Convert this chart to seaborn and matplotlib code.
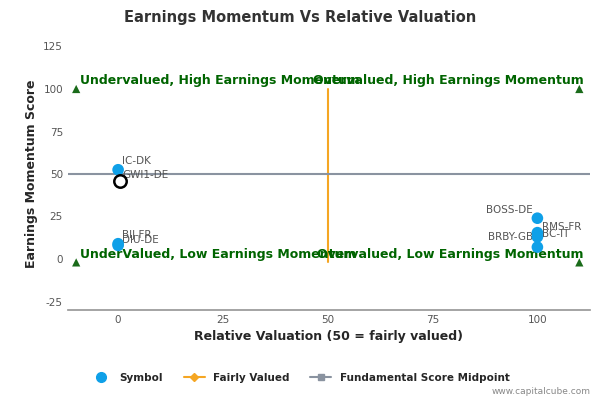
import matplotlib
matplotlib.use("Agg")
import matplotlib.pyplot as plt
import seaborn as sns
import pandas as pd
from matplotlib.lines import Line2D

symbols = ["IC-DK", "BIJ-FR", "DIU-DE", "BOSS-DE", "RMS-FR", "BC-IT", "BRBY-GB"]
val_x = [0, 0, 0, 100, 100, 100, 100]
mom_y = [52.5, 9, 8, 24, 15.5, 13, 7]
focus_name = "GWI1-DE"
focus_x, focus_y = 0.5, 46
corners_x = [-10, 110, -10, 110]
corners_y = [100, 100, -2, -2]
quad_labels = ["Undervalued, High Earnings Momentum", "Overvalued, High Earnings Momentum",
               "UnderValued, Low Earnings Momentum", "Overvalued, Low Earnings Momentum"]

sns.set_theme(style="white")
plt.rcParams["axes.unicode_minus"] = False
fig, ax = plt.subplots(figsize=(6, 4), dpi=100)
fig.subplots_adjust(left=0.113, right=0.983, top=0.905, bottom=0.225)

df = pd.DataFrame({"x": val_x, "y": mom_y, "s": symbols})
sns.scatterplot(data=df, x="x", y="y", ax=ax, color="#0fa0e8", s=70, edgecolor="none", zorder=4, legend=False)
ax.scatter([focus_x], [focus_y], s=80, facecolor="white", edgecolor="black", linewidth=1.8, zorder=5)
sns.scatterplot(x=corners_x, y=corners_y, ax=ax, marker="^", color="#1a6b1a", s=35, edgecolor="none", legend=False)

ax.plot([50, 50], [-2, 100], color="#f5a623", lw=1.5, zorder=2)
ax.axhline(50, color="#8a93a0", lw=1.5, zorder=2)

offs = {"IC-DK": (1, 2, "left"), "BIJ-FR": (1, 2, "left"), "DIU-DE": (1, 0, "left"),
        "BOSS-DE": (-1, 2, "right"), "RMS-FR": (1, 0.5, "left"), "BC-IT": (1, -1, "left"),
        "BRBY-GB": (-1, 3, "right")}
for s, x, y in zip(symbols, val_x, mom_y):
    dx, dy, ha = offs[s]
    ax.text(x + dx, y + dy, s, fontsize=7.5, color="#555555", ha=ha, va="bottom")
ax.text(focus_x + 0.5, focus_y + 0.5, focus_name, fontsize=7.5, color="#555555", ha="left", va="bottom")

gk = dict(fontsize=9, color="#006400", fontweight="bold", va="bottom")
ax.text(-9, 101, quad_labels[0], ha="left", **gk)
ax.text(111, 101, quad_labels[1], ha="right", **gk)
ax.text(-9, -1, quad_labels[2], ha="left", **gk)
ax.text(111, -1, quad_labels[3], ha="right", **gk)

ax.set_xlim(-12, 112.5)
ax.set_ylim(-30, 130)
ax.set_xticks([0, 25, 50, 75, 100])
ax.set_yticks([-25, 0, 25, 50, 75, 100, 125])
ax.tick_params(labelsize=7.5, colors="#555555", length=0)
ax.set_xlabel("Relative Valuation (50 = fairly valued)", fontsize=9, fontweight="bold")
ax.set_ylabel("Earnings Momentum Score", fontsize=9, fontweight="bold")
for sp in ["top", "right", "left"]:
    ax.spines[sp].set_visible(False)
ax.spines["bottom"].set_color("#999999")
fig.suptitle("Earnings Momentum Vs Relative Valuation", fontsize=10.5, fontweight="bold", color="#333333", y=0.975)

handles = [Line2D([], [], marker="o", ls="none", color="#0fa0e8", markersize=7),
           Line2D([], [], marker="D", color="#f5a623", markersize=4, lw=1.5),
           Line2D([], [], marker="s", color="#8a93a0", markersize=5, lw=1.5)]
fig.legend(handles, ["Symbol", "Fairly Valued", "Fundamental Score Midpoint"], loc="lower center",
           bbox_to_anchor=(0.5, 0.02), ncol=3, frameon=False, prop={"size": 7.5, "weight": "bold"})
fig.text(0.985, 0.01, "www.capitalcube.com", fontsize=6.5, color="#888888", ha="right", va="bottom")
fig.savefig("out.png", dpi=100)
